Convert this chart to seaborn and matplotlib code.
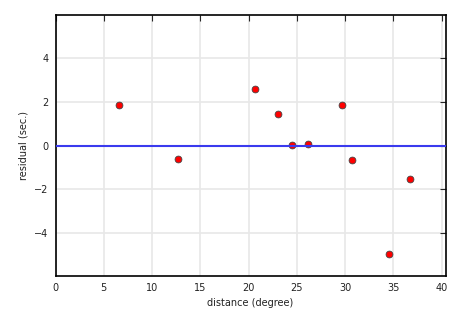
import matplotlib
matplotlib.use("Agg")
import matplotlib.pyplot as plt
import seaborn as sns
import pandas as pd

distance = [6.6, 12.7, 20.7, 23.1, 24.5, 26.2, 29.7, 30.75, 34.5, 36.77]
residual = [1.87, -0.62, 2.59, 1.44, 0.02, 0.06, 1.85, -0.67, -4.98, -1.54]

df = pd.DataFrame({"distance": distance, "residual": residual})

sns.set_style("white")
plt.rcParams['font.family'] = ['DejaVu Sans']

fig = plt.figure(figsize=(4.65, 3.15), dpi=100)
ax = fig.add_axes([55.5/465, (315-276)/315, (445.5-55.5)/465, (276-15)/315])

ax.grid(True, color="#e8e8e8", linewidth=1.2, zorder=0)
sns.scatterplot(data=df, x="distance", y="residual", ax=ax, color="red",
                edgecolor="#444444", linewidth=0.6, s=24, zorder=2)
ax.axhline(0, color="#3a3aee", linewidth=1.5, zorder=3)

ax.set_xlim(0, 40.4)
ax.set_ylim(-5.98, 5.98)
ax.set_xticks([0, 5, 10, 15, 20, 25, 30, 35, 40])
ax.set_yticks([-4, -2, 0, 2, 4])
ax.set_xlabel("distance (degree)", fontsize=7, color="#222222")
ax.set_ylabel("residual (sec.)", fontsize=7, color="#222222")
ax.tick_params(direction="in", length=4, width=0.8, labelsize=7, top=True, right=True,
               labelcolor="#222222", pad=5)
for s in ax.spines.values():
    s.set_visible(True)
    s.set_color("black")
    s.set_linewidth(1.2)

fig.savefig("out.png", dpi=100)
